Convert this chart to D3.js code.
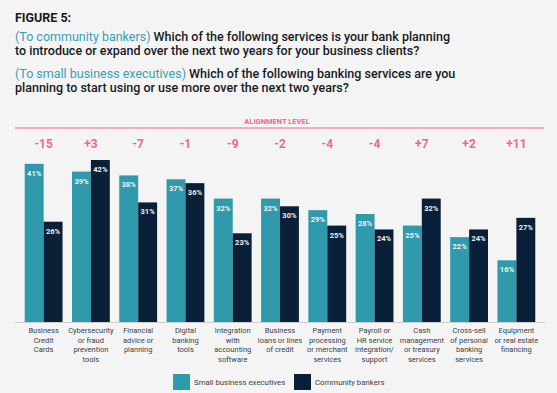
<!DOCTYPE html>
<html>
<head>
<meta charset="utf-8">
<script src="https://cdn.jsdelivr.net/npm/d3@7"></script>
<style>
  body { margin: 0; background: #f4f4f4; }
  svg { display: block; font-family: Roboto, "Open Sans", sans-serif; }
</style>
</head>
<body>
<svg id="chart"></svg>
<script>
const categories = [
  ["Business", "Credit", "Cards"],
  ["Cybersecurity", "or fraud", "prevention", "tools"],
  ["Financial", "advice or", "planning"],
  ["Digital", "banking", "tools"],
  ["Integration", "with", "accounting", "software"],
  ["Business", "loans or lines", "of credit"],
  ["Payment", "processing", "or merchant", "services"],
  ["Payroll or", "HR service", "integration/", "support"],
  ["Cash", "management", "or treasury", "services"],
  ["Cross-sell", "of personal", "banking", "services"],
  ["Equipment", "or real estate", "financing"]
];
const smallBiz = [41, 39, 38, 37, 32, 32, 29, 28, 25, 22, 16];
const community = [26, 42, 31, 36, 23, 30, 25, 24, 32, 24, 27];
const alignment = ["-15", "+3", "-7", "-1", "-9", "-2", "-4", "-4", "+7", "+2", "+11"];
const seriesNames = ["Small business executives", "Community bankers"];

const width = 557, height = 393;
const teal = "#2e9aab", navy = "#0a2039", pink = "#f2668e";

const svg = d3.select("#chart").attr("width", width).attr("height", height);

// title
const title = svg.append("g").attr("fill", "#161a24").style("font-size", "12.5px").style("font-weight", 500);
title.append("text").attr("x", 15).attr("y", 22).style("font-weight", 700).text("FIGURE 5:");
const t1 = title.append("text").attr("x", 15).attr("y", 41);
t1.append("tspan").attr("fill", "#3a9fb5").style("font-weight", 400).text("(To community bankers)");
t1.append("tspan").text(" Which of the following services is your bank planning");
title.append("text").attr("x", 15).attr("y", 55).text("to introduce or expand over the next two years for your business clients?");
const t2 = title.append("text").attr("x", 15).attr("y", 78);
t2.append("tspan").attr("fill", "#3a9fb5").style("font-weight", 400).text("(To small business executives)");
t2.append("tspan").text(" Which of the following banking services are you");
title.append("text").attr("x", 15).attr("y", 92).text("planning to start using or use more over the next two years?");

// scales
const x = d3.scaleBand().domain(d3.range(categories.length)).range([20, 540])
  .paddingInner(0.2).paddingOuter(0.1);
const xs = d3.scaleBand().domain([0, 1]).range([0, x.bandwidth()]);
const y = d3.scaleLinear().domain([0, 42]).range([322, 160]);

// alignment header
svg.append("line").attr("x1", 15).attr("x2", 544).attr("y1", 128).attr("y2", 128)
  .attr("stroke", pink).attr("stroke-width", 1.2);
svg.append("text").attr("x", 277).attr("y", 124).attr("text-anchor", "middle")
  .attr("fill", pink).style("font-size", "7.5px").style("font-weight", 700).text("ALIGNMENT LEVEL");
svg.append("g").selectAll("text").data(alignment).join("text")
  .attr("x", (d, i) => x(i) + x.bandwidth() / 2).attr("y", 148)
  .attr("text-anchor", "middle").attr("fill", pink)
  .style("font-size", "12px").style("font-weight", 700).text(d => d);

// bars
const groups = svg.append("g").selectAll("g").data(categories.map((c, i) => i)).join("g")
  .attr("transform", i => `translate(${x(i)},0)`);
groups.selectAll("rect").data(i => [smallBiz[i], community[i]]).join("rect")
  .attr("x", (d, j) => xs(j)).attr("width", xs.bandwidth())
  .attr("y", d => y(d)).attr("height", d => y(0) - y(d))
  .attr("fill", (d, j) => j ? navy : teal);
groups.selectAll("text.val").data(i => [smallBiz[i], community[i]]).join("text")
  .attr("class", "val")
  .attr("x", (d, j) => xs(j) + xs.bandwidth() / 2).attr("y", d => y(d) + 12)
  .attr("text-anchor", "middle").attr("fill", "#eef2f4")
  .style("font-size", "7.5px").style("font-weight", 700).text(d => d + "%");

// baseline
svg.append("line").attr("x1", 15).attr("x2", 545).attr("y1", 322.5).attr("y2", 322.5)
  .attr("stroke", "#cfcfcf").attr("stroke-width", 1);

// category labels
svg.append("g").selectAll("text").data(categories).join("text")
  .attr("x", (d, i) => x(i) + x.bandwidth() / 2).attr("y", 333)
  .attr("text-anchor", "middle").attr("fill", "#3a3f48").style("font-size", "7.5px")
  .selectAll("tspan").data(d => d).join("tspan")
  .attr("x", function () { return d3.select(this.parentNode).attr("x"); })
  .attr("dy", (d, k) => k ? 9.7 : 0).text(d => d);

// legend
const legend = svg.append("g");
const lx = [173, 294];
seriesNames.forEach((name, j) => {
  legend.append("rect").attr("x", lx[j]).attr("y", 374).attr("width", 17).attr("height", 16)
    .attr("fill", j ? navy : teal);
  legend.append("text").attr("x", lx[j] + 21).attr("y", 385)
    .attr("fill", "#3a3f48").style("font-size", "7.8px").text(name);
});
</script>
</body>
</html>
